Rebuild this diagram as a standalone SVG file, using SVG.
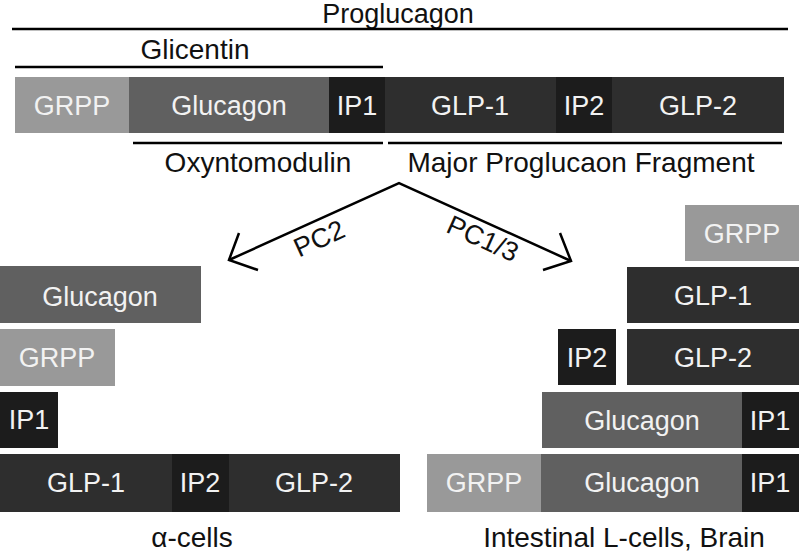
<svg xmlns="http://www.w3.org/2000/svg" width="800" height="558" viewBox="0 0 800 558">
<style>
text{font-family:"Liberation Sans",Arial,sans-serif;font-size:27px;text-anchor:middle}
.w{fill:#f2f2f2}
.k{fill:#111;font-size:28px}
.grpp{fill:#999999}
.glu{fill:#606060}
.ip{fill:#1c1c1c}
.glp{fill:#2e2e2e}
.ln{stroke:#000;stroke-width:2.5;fill:none}
</style>
<rect width="800" height="558" fill="#fff"/>
<g id="labels-top">
<text class="k" x="398" y="23" style="font-size:27px">Proglucagon</text>
<line class="ln" x1="12" y1="29" x2="788" y2="29"/>
<text class="k" x="195" y="59">Glicentin</text>
<line class="ln" x1="15" y1="67" x2="383" y2="67"/>
<line class="ln" x1="133" y1="143" x2="383" y2="143"/>
<text class="k" x="258" y="172">Oxyntomodulin</text>
<line class="ln" x1="388" y1="143" x2="782" y2="143"/>
<text class="k" x="581" y="172">Major Proglucaon Fragment</text>
</g>
<g id="proglucagon-bar">
<rect class="grpp" x="15" y="77" width="114" height="56"/>
<rect class="glu" x="129" y="77" width="200" height="56"/>
<rect class="ip" x="329" y="77" width="56" height="56"/>
<rect class="glp" x="385" y="77" width="171" height="56"/>
<rect class="ip" x="556" y="77" width="56" height="56"/>
<rect class="glp" x="612" y="77" width="172" height="56"/>
<text class="w" x="72" y="115">GRPP</text>
<text class="w" x="229" y="115">Glucagon</text>
<text class="w" x="357" y="115">IP1</text>
<text class="w" x="470" y="115">GLP-1</text>
<text class="w" x="584" y="115">IP2</text>
<text class="w" x="698" y="115">GLP-2</text>
</g>
<g id="connectors">
<polyline class="ln" points="229,260 399,183 571,261"/>
<polyline class="ln" points="239,233 229,260 258,270"/>
<polyline class="ln" points="560,233 571,261 543,270"/>
<text class="k" transform="translate(323,247) rotate(-24.4)" style="font-size:27px">PC2</text>
<text class="k" transform="translate(479,247) rotate(24.4)" style="font-size:27px">PC1/3</text>
</g>
<g id="alpha-glucagon">
<rect class="glu" x="0" y="266" width="201" height="57"/>
<text class="w" x="100" y="306">Glucagon</text>
</g>
<g id="alpha-grpp">
<rect class="grpp" x="0" y="329" width="115" height="57"/>
<text class="w" x="57" y="367">GRPP</text>
</g>
<g id="alpha-ip1">
<rect class="ip" x="0" y="392" width="58" height="56"/>
<text class="w" x="29" y="429">IP1</text>
</g>
<g id="alpha-mpgf">
<rect class="glp" x="0" y="454" width="172" height="58"/>
<rect class="ip" x="172" y="454" width="57" height="58"/>
<rect class="glp" x="229" y="454" width="171" height="58"/>
<text class="w" x="86" y="492">GLP-1</text>
<text class="w" x="200" y="492">IP2</text>
<text class="w" x="314" y="492">GLP-2</text>
</g>
<text class="k" x="192" y="547">α-cells</text>
<g id="l-grpp">
<rect class="grpp" x="685" y="205" width="114" height="56"/>
<text class="w" x="742" y="243">GRPP</text>
</g>
<g id="l-glp1">
<rect class="glp" x="627" y="267" width="172" height="56"/>
<text class="w" x="713" y="305">GLP-1</text>
</g>
<g id="l-ip2">
<rect class="ip" x="558" y="329" width="58" height="56"/>
<text class="w" x="587" y="367">IP2</text>
</g>
<g id="l-glp2">
<rect class="glp" x="627" y="329" width="172" height="56"/>
<text class="w" x="713" y="367">GLP-2</text>
</g>
<g id="l-oxm">
<rect class="glu" x="542" y="392" width="200" height="56"/>
<rect class="ip" x="742" y="392" width="57" height="56"/>
<text class="w" x="642" y="430">Glucagon</text>
<text class="w" x="770" y="430">IP1</text>
</g>
<g id="l-glicentin">
<rect class="grpp" x="427" y="454" width="114" height="58"/>
<rect class="glu" x="541" y="454" width="201" height="58"/>
<rect class="ip" x="742" y="454" width="57" height="58"/>
<text class="w" x="484" y="492">GRPP</text>
<text class="w" x="642" y="492">Glucagon</text>
<text class="w" x="770" y="492">IP1</text>
</g>
<text class="k" x="624" y="547">Intestinal L-cells, Brain</text>
</svg>
